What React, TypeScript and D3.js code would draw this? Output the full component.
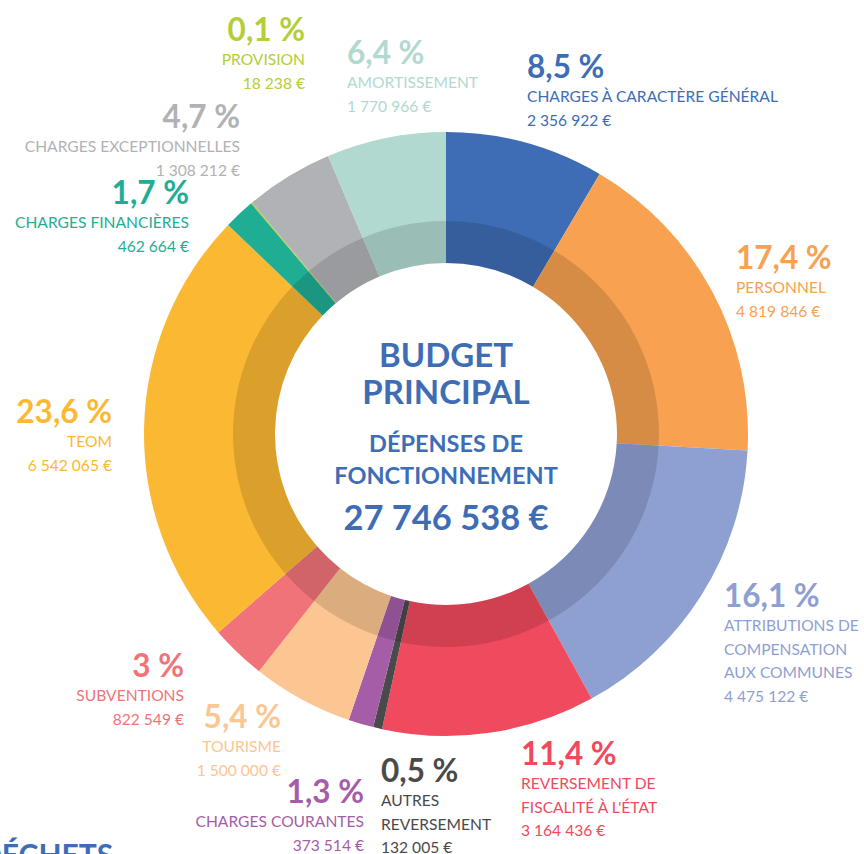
import React from 'react'
import * as d3 from 'd3'

// dépenses de fonctionnement, budget principal (en euros)
const categories = [
  'CHARGES À CARACTÈRE GÉNÉRAL',
  'PERSONNEL',
  'ATTRIBUTIONS DE\nCOMPENSATION\nAUX COMMUNES',
  'REVERSEMENT DE\nFISCALITÉ À L\'ÉTAT',
  'AUTRES\nREVERSEMENT',
  'CHARGES COURANTES',
  'TOURISME',
  'SUBVENTIONS',
  'TEOM',
  'CHARGES FINANCIÈRES',
  'PROVISION',
  'CHARGES EXCEPTIONNELLES',
  'AMORTISSEMENT',
]
const amounts = [
  2356922, 4819846, 4475122, 3164436, 132005, 373514, 1500000, 822549,
  6542065, 462664, 18238, 1308212, 1770966,
]
const colors = [
  '#3e6db5', '#f7a151', '#8e9fd1', '#ef4a5d', '#4a4a4a', '#a65da8', '#fbc691',
  '#f07379', '#fbb832', '#1fad93', '#b4ce35', '#b1b2b6', '#b1d9d0',
]
const titleLines = ['BUDGET', 'PRINCIPAL']
const subtitleLines = ['DÉPENSES DE', 'FONCTIONNEMENT']
const totalLabel = '27 746 538 €'

// where each label block sits: [x, baseline of the percent, anchor]
const labelLayout: [number, number, string][] = [
  [527, 78, 'start'],
  [736, 269, 'start'],
  [724, 607, 'start'],
  [521, 765, 'start'],
  [381, 782, 'start'],
  [364, 803, 'end'],
  [281, 728, 'end'],
  [184, 677, 'end'],
  [112, 423, 'end'],
  [189, 204, 'end'],
  [305, 41, 'end'],
  [240, 128, 'end'],
  [347, 64, 'start'],
]

const W = 864
const H = 854
const cx = 446
const cy = 434
const rOuter = 302
const rInner = 171
const rBand = 213
const font = "Lato, 'Open Sans', sans-serif"

const fr = d3.formatLocale({
  decimal: ',',
  thousands: ' ',
  grouping: [3],
  currency: ['', ' €'],
})
const fmtEuro = fr.format('$,.0f')
const fmtPct = fr.format('.1f')

export default function App() {
  const total = d3.sum(amounts)
  const pie = d3
    .pie<number>()
    .sort(null)
    .value((d) => d)
  const arcs = pie(amounts)
  const arc = d3
    .arc<d3.PieArcDatum<number>>()
    .innerRadius(rInner)
    .outerRadius(rOuter)
  const band = d3.arc()({
    innerRadius: rInner,
    outerRadius: rBand,
    startAngle: 0,
    endAngle: 2 * Math.PI,
  }) as string

  const pct = (v: number) => fmtPct((v / total) * 100).replace(/,0$/, '') + ' %'

  return (
    <svg
      width={W}
      height={H}
      style={{position: 'absolute', left: 0, top: 0, background: '#fff'}}
      fontFamily={font}
    >
      <g transform={`translate(${cx},${cy})`}>
        {arcs.map((a, i) => (
          <path key={i} d={arc(a) as string} fill={colors[i]} />
        ))}
        <path d={band} fill="#000" fillOpacity={0.13} />
      </g>

      <g textAnchor="middle" fill="#3e6db5" fontWeight="bold">
        {titleLines.map((t, i) => (
          <text key={t} x={cx} y={367 + i * 37} fontSize={33}>
            {t}
          </text>
        ))}
        {subtitleLines.map((t, i) => (
          <text key={t} x={cx} y={452 + i * 32} fontSize={23.5}>
            {t}
          </text>
        ))}
        <text x={cx} y={530} fontSize={34.5}>
          {totalLabel}
        </text>
      </g>

      {categories.map((name, i) => {
        const [x, y, anchor] = labelLayout[i]
        const lines = name.split('\n')
        return (
          <g key={i} fill={colors[i]} textAnchor={anchor}>
            <text x={x} y={y} fontSize={31.5} fontWeight="bold">
              {pct(amounts[i])}
            </text>
            {lines.map((l, j) => (
              <text key={j} x={x} y={y + 24 + j * 23.5} fontSize={15.6}>
                {l}
              </text>
            ))}
            <text x={x} y={y + 24 + lines.length * 23.5} fontSize={15.6}>
              {fmtEuro(amounts[i])}
            </text>
          </g>
        )
      })}

      <text x={-21} y={866} fill="#3e6db5" fontSize={30} fontWeight="bold">
        DÉCHETS
      </text>
    </svg>
  )
}
